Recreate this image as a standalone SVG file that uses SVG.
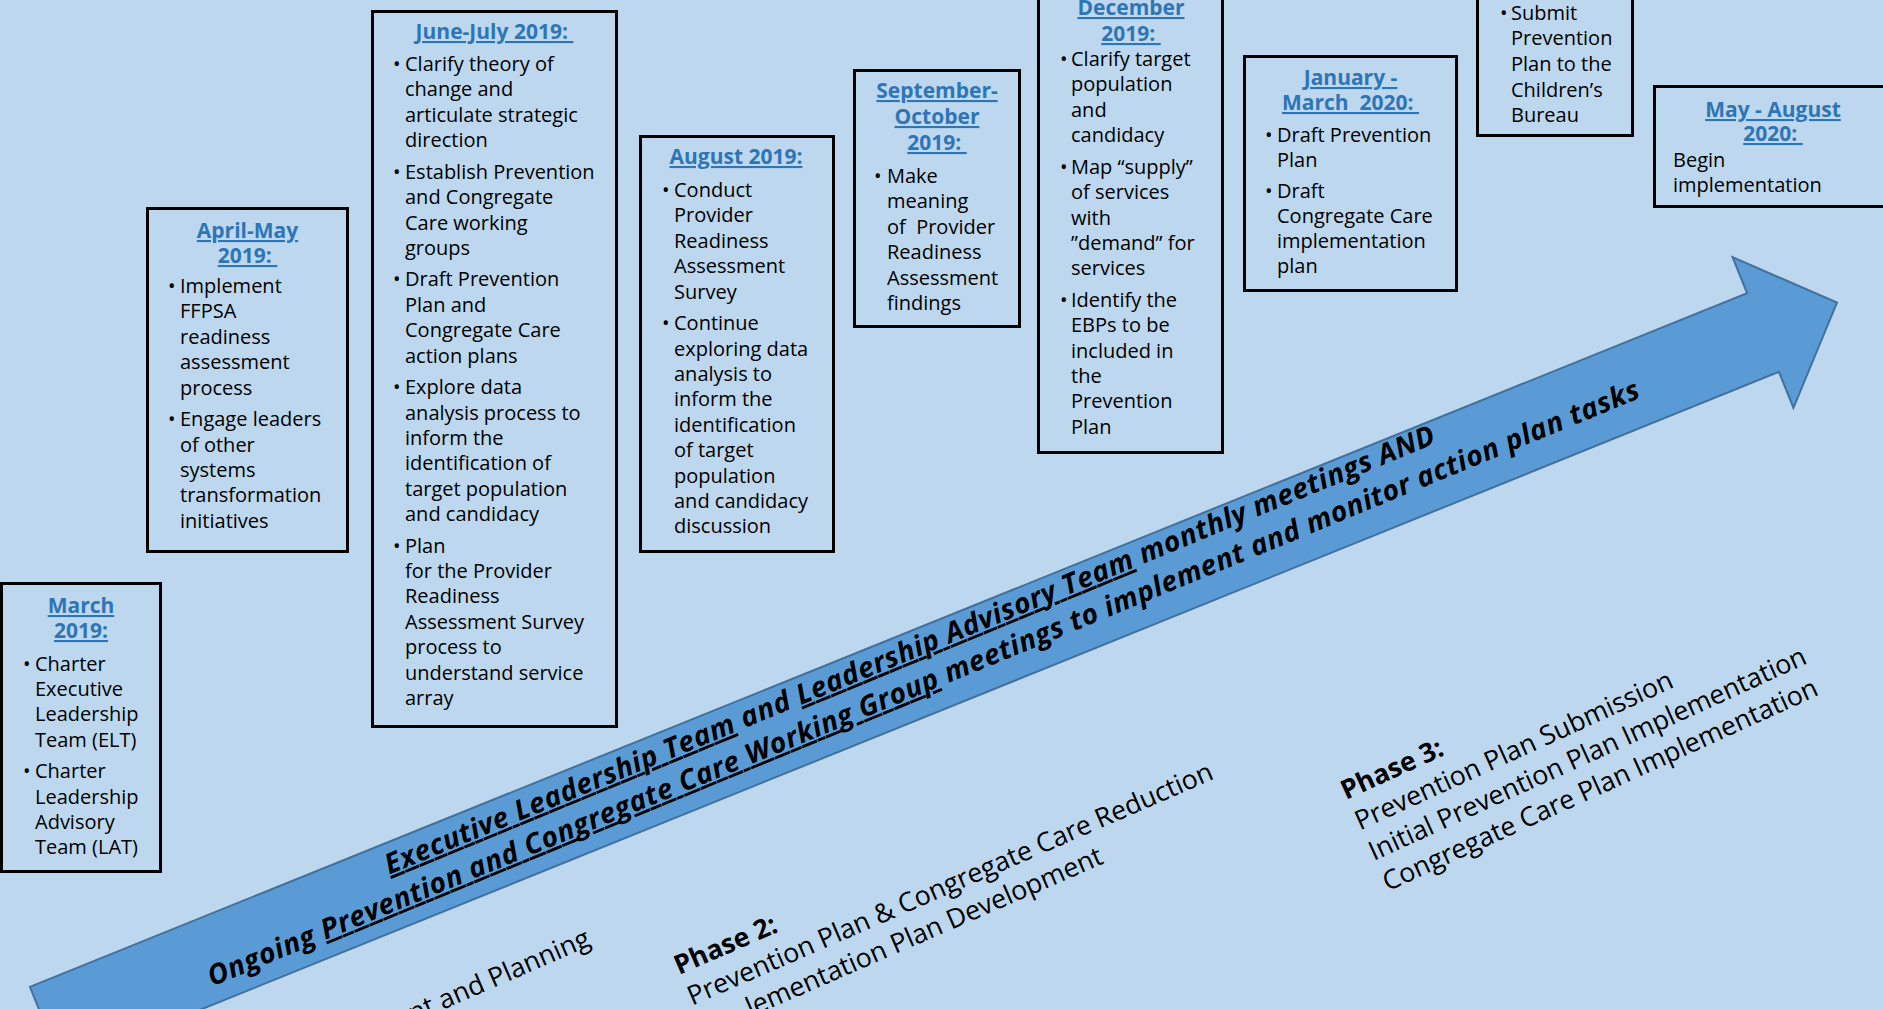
<svg xmlns="http://www.w3.org/2000/svg" width="1883" height="1009" viewBox="0 0 1883 1009">
<style>
.bg{fill:#BDD7EE}
.box{fill:#BDD7EE;stroke:#000;stroke-width:3}
.t{font-family:"Open Sans","Noto Sans",sans-serif;font-size:20px;fill:#000}
.ttl{font-family:"Open Sans","Noto Sans",sans-serif;font-size:21px;font-weight:bold;fill:#2E75B6;text-decoration:underline;text-anchor:middle;white-space:pre}
.arrow{fill:#5B9BD5;stroke:#41719C;stroke-width:2}
.at{font-family:"Open Sans","Noto Sans",sans-serif;font-size:28px;font-weight:bold;font-style:italic;fill:#000}
.u{text-decoration:underline}
.ph{font-family:"Open Sans","Noto Sans",sans-serif;font-size:26.7px;fill:#000}
.b{font-weight:bold}
</style>
<rect class="bg" x="0" y="0" width="1883" height="1009"/>

<g id="timeline-arrow">
<path class="arrow" transform="translate(1763,332.5) rotate(-22)" d="M -1852,-42.5 L 0,-42.5 L 0,-81.25 L 79.8,0 L 0,81.25 L 0,42.5 L -1852,42.5 Z"/>
<g transform="translate(919.2,673.4) rotate(-22.4)">
<text class="at" x="0" y="-16" text-anchor="middle" textLength="1133" lengthAdjust="spacing"><tspan class="u">Executive Leadership Team</tspan> and <tspan class="u">Leadership Advisory Team</tspan> monthly meetings AND</text>
<text class="at" x="0" y="20" text-anchor="middle" textLength="1546" lengthAdjust="spacing">Ongoing <tspan class="u">Prevention and Congregate Care Working Group</tspan> meetings to implement and monitor action plan tasks</text>
</g>
</g>

<g id="phase1" transform="translate(592,945) rotate(-23.5)">
<text class="ph" x="0" y="0" text-anchor="end">nt and Planning</text>
</g>
<g id="phase2" transform="translate(679,975) rotate(-23.5)">
<text class="ph"><tspan class="b" x="0" y="0">Phase 2:</tspan><tspan x="0" y="33.5">Prevention Plan &amp; Congregate Care Reduction</tspan></text>
<text class="ph" x="49" y="67">lementation Plan Development</text>
</g>
<g id="phase3" transform="translate(1346,800) rotate(-24.5)">
<text class="ph"><tspan class="b" x="0" y="0">Phase 3:</tspan><tspan x="0" y="33.5">Prevention Plan Submission</tspan><tspan x="0" y="67">Initial Prevention Plan Implementation</tspan><tspan x="0" y="100.5">Congregate Care Plan Implementation</tspan></text>
</g>

<g id="box-march-2019">
<rect class="box" x="1.5" y="583.5" width="159" height="288"/>
<text class="ttl"><tspan x="81" y="613">March</tspan><tspan x="81" y="638">2019:</tspan></text>
<text class="t"><tspan x="23" y="670.5">•</tspan><tspan x="23" y="778.2">•</tspan></text>
<text class="t"><tspan x="35" y="670.5">Charter</tspan><tspan x="35" y="695.9">Executive</tspan><tspan x="35" y="721.3">Leadership</tspan><tspan x="35" y="746.7">Team (ELT)</tspan><tspan x="35" y="778.2">Charter</tspan><tspan x="35" y="803.6">Leadership</tspan><tspan x="35" y="829">Advisory</tspan><tspan x="35" y="854.4">Team (LAT)</tspan></text>
</g>

<g id="box-april-may-2019">
<rect class="box" x="147.5" y="208.5" width="200" height="343"/>
<text class="ttl"><tspan x="247.5" y="238">April-May</tspan><tspan x="247.5" y="263">2019: </tspan></text>
<text class="t"><tspan x="168" y="293">•</tspan><tspan x="168" y="426.1">•</tspan></text>
<text class="t"><tspan x="180" y="293">Implement</tspan><tspan x="180" y="318.4">FFPSA</tspan><tspan x="180" y="343.8">readiness</tspan><tspan x="180" y="369.2">assessment</tspan><tspan x="180" y="394.6">process</tspan><tspan x="180" y="426.1">Engage leaders</tspan><tspan x="180" y="451.5">of other</tspan><tspan x="180" y="476.9">systems</tspan><tspan x="180" y="502.3">transformation</tspan><tspan x="180" y="527.7">initiatives</tspan></text>
</g>

<g id="box-june-july-2019">
<rect class="box" x="372.5" y="11.5" width="244" height="715"/>
<text class="ttl"><tspan x="494.5" y="39">June-July 2019: </tspan></text>
<text class="t"><tspan x="393" y="71">•</tspan><tspan x="393" y="178.7">•</tspan><tspan x="393" y="286.4">•</tspan><tspan x="393" y="394.1">•</tspan><tspan x="393" y="552.6">•</tspan></text>
<text class="t"><tspan x="405" y="71">Clarify theory of</tspan><tspan x="405" y="96.4">change and</tspan><tspan x="405" y="121.8">articulate strategic</tspan><tspan x="405" y="147.2">direction</tspan><tspan x="405" y="178.7">Establish Prevention</tspan><tspan x="405" y="204.1">and Congregate</tspan><tspan x="405" y="229.5">Care working</tspan><tspan x="405" y="254.9">groups</tspan><tspan x="405" y="286.4">Draft Prevention</tspan><tspan x="405" y="311.8">Plan and</tspan><tspan x="405" y="337.2">Congregate Care</tspan><tspan x="405" y="362.6">action plans</tspan><tspan x="405" y="394.1">Explore data</tspan><tspan x="405" y="419.5">analysis process to</tspan><tspan x="405" y="444.9">inform the</tspan><tspan x="405" y="470.3">identification of</tspan><tspan x="405" y="495.7">target population</tspan><tspan x="405" y="521.1">and candidacy</tspan><tspan x="405" y="552.6">Plan</tspan><tspan x="405" y="578">for the Provider</tspan><tspan x="405" y="603.4">Readiness</tspan><tspan x="405" y="628.8">Assessment Survey</tspan><tspan x="405" y="654.2">process to</tspan><tspan x="405" y="679.6">understand service</tspan><tspan x="405" y="705">array</tspan></text>
</g>

<g id="box-august-2019">
<rect class="box" x="640.5" y="136.5" width="193" height="415"/>
<text class="ttl"><tspan x="736" y="164">August 2019:</tspan></text>
<text class="t"><tspan x="662" y="197">•</tspan><tspan x="662" y="330.1">•</tspan></text>
<text class="t"><tspan x="674" y="197">Conduct</tspan><tspan x="674" y="222.4">Provider</tspan><tspan x="674" y="247.8">Readiness</tspan><tspan x="674" y="273.2">Assessment</tspan><tspan x="674" y="298.6">Survey</tspan><tspan x="674" y="330.1">Continue</tspan><tspan x="674" y="355.5">exploring data</tspan><tspan x="674" y="380.9">analysis to</tspan><tspan x="674" y="406.3">inform the</tspan><tspan x="674" y="431.7">identification</tspan><tspan x="674" y="457.1">of target</tspan><tspan x="674" y="482.5">population</tspan><tspan x="674" y="507.9">and candidacy</tspan><tspan x="674" y="533.3">discussion</tspan></text>
</g>

<g id="box-september-october-2019">
<rect class="box" x="854.5" y="70.5" width="165" height="256"/>
<text class="ttl"><tspan x="937" y="98">September-</tspan><tspan x="937" y="124">October</tspan><tspan x="937" y="150">2019: </tspan></text>
<text class="t"><tspan x="874" y="183">•</tspan></text>
<text class="t" xml:space="preserve"><tspan x="887" y="183">Make</tspan><tspan x="887" y="208.4">meaning</tspan><tspan x="887" y="233.8">of  Provider</tspan><tspan x="887" y="259.2">Readiness</tspan><tspan x="887" y="284.6">Assessment</tspan><tspan x="887" y="310">findings</tspan></text>
</g>

<g id="box-december-2019">
<rect class="box" x="1038.5" y="-60" width="184" height="512.5"/>
<text class="ttl"><tspan x="1131" y="15">December</tspan><tspan x="1131" y="41">2019: </tspan></text>
<text class="t"><tspan x="1060" y="66">•</tspan><tspan x="1060" y="173.7">•</tspan><tspan x="1060" y="306.8">•</tspan></text>
<text class="t"><tspan x="1071" y="66">Clarify target</tspan><tspan x="1071" y="91.4">population</tspan><tspan x="1071" y="116.8">and</tspan><tspan x="1071" y="142.2">candidacy</tspan><tspan x="1071" y="173.7">Map “supply”</tspan><tspan x="1071" y="199.1">of services</tspan><tspan x="1071" y="224.5">with</tspan><tspan x="1071" y="249.9">”demand” for</tspan><tspan x="1071" y="275.3">services</tspan><tspan x="1071" y="306.8">Identify the</tspan><tspan x="1071" y="332.2">EBPs to be</tspan><tspan x="1071" y="357.6">included in</tspan><tspan x="1071" y="383">the</tspan><tspan x="1071" y="408.4">Prevention</tspan><tspan x="1071" y="433.8">Plan</tspan></text>
</g>

<g id="box-january-march-2020">
<rect class="box" x="1244.5" y="56.5" width="212" height="234"/>
<text class="ttl"><tspan x="1350.5" y="85">January -</tspan><tspan x="1350.5" y="110">March  2020: </tspan></text>
<text class="t"><tspan x="1265" y="142">•</tspan><tspan x="1265" y="198">•</tspan></text>
<text class="t"><tspan x="1277" y="142">Draft Prevention</tspan><tspan x="1277" y="167">Plan</tspan><tspan x="1277" y="198">Draft</tspan><tspan x="1277" y="223">Congregate Care</tspan><tspan x="1277" y="248">implementation</tspan><tspan x="1277" y="273">plan</tspan></text>
</g>

<g id="box-submit-plan">
<rect class="box" x="1477.5" y="-60" width="155" height="195.5"/>
<text class="t"><tspan x="1500" y="20">•</tspan></text>
<text class="t"><tspan x="1511" y="20">Submit</tspan><tspan x="1511" y="45">Prevention</tspan><tspan x="1511" y="71">Plan to the</tspan><tspan x="1511" y="97">Children’s</tspan><tspan x="1511" y="122">Bureau</tspan></text>
</g>

<g id="box-may-august-2020">
<rect class="box" x="1654.5" y="86.5" width="240" height="120"/>
<text class="ttl"><tspan x="1773" y="117">May - August</tspan><tspan x="1773" y="141">2020: </tspan></text>
<text class="t"><tspan x="1673" y="167">Begin</tspan><tspan x="1673" y="192">implementation</tspan></text>
</g>
</svg>
